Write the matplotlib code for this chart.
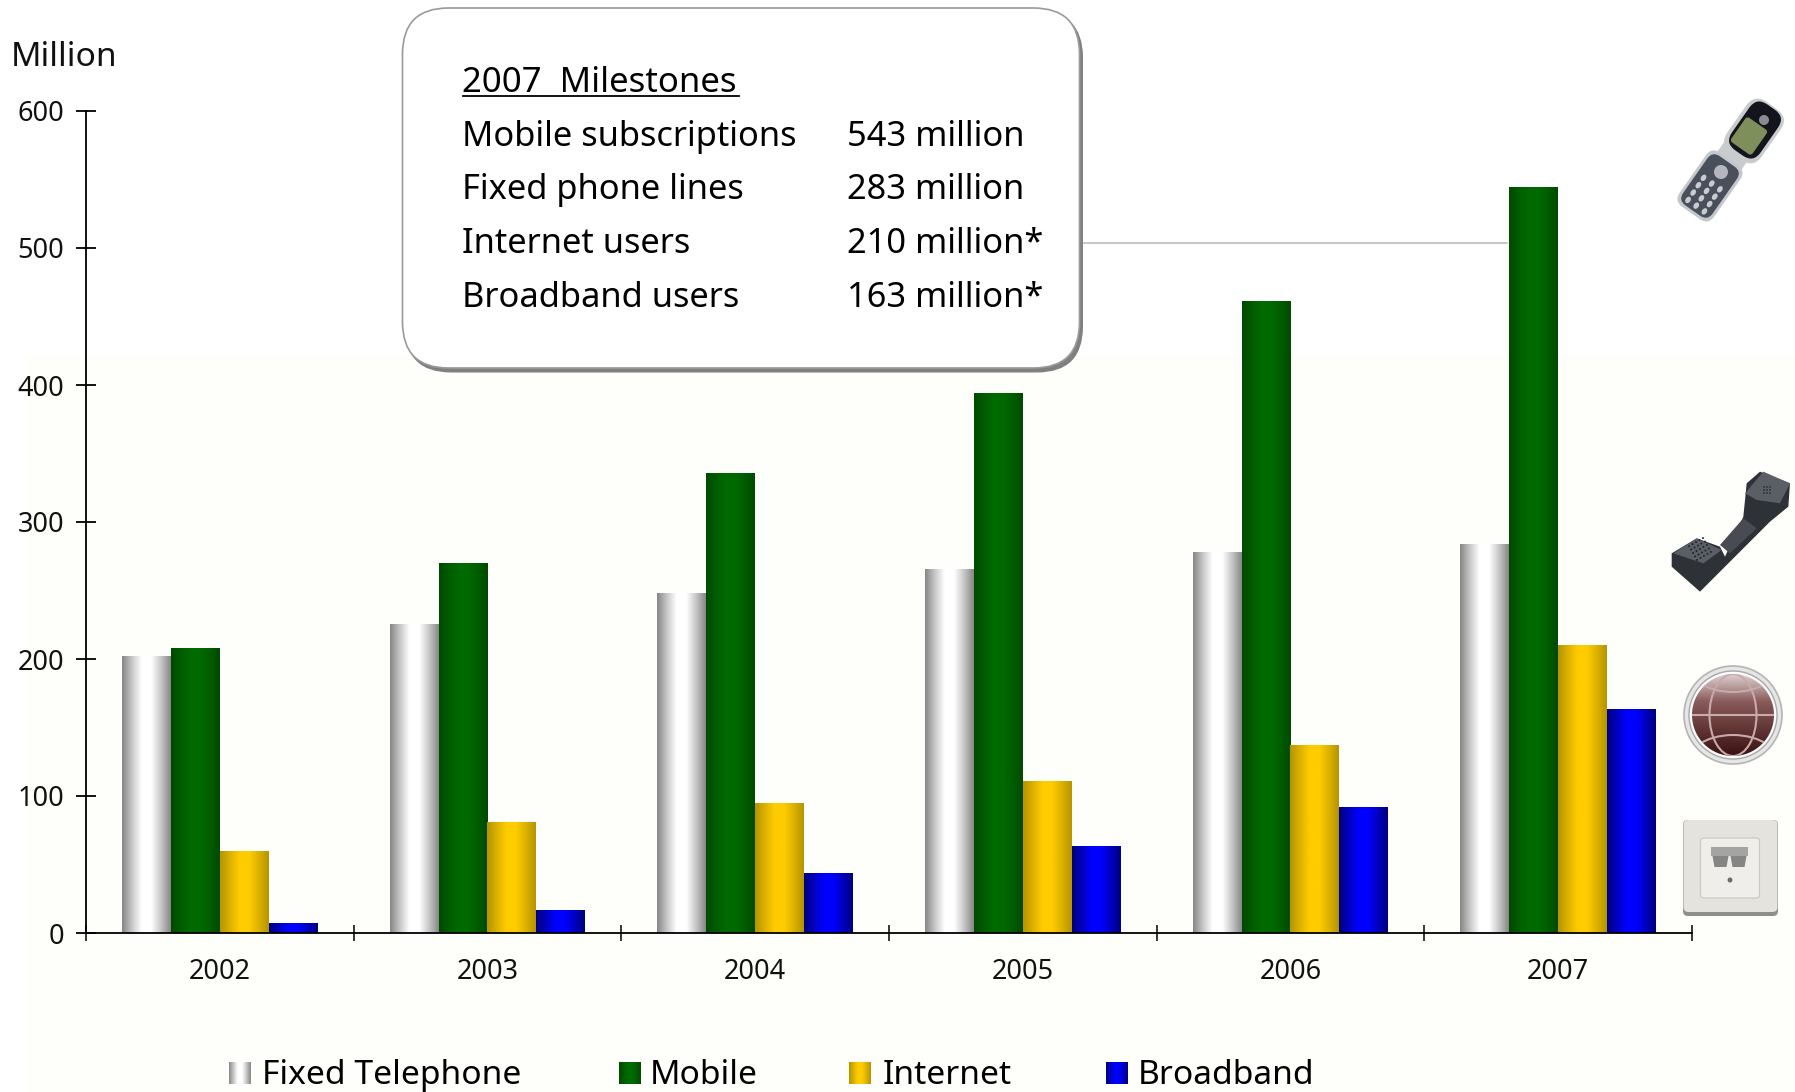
import numpy as np
import matplotlib
matplotlib.use("Agg")
import matplotlib.pyplot as plt
from matplotlib.patches import FancyBboxPatch, Rectangle, Circle, Ellipse, Polygon
from matplotlib.colors import LinearSegmentedColormap
from matplotlib.transforms import Affine2D

years = ["2002", "2003", "2004", "2005", "2006", "2007"]
fixed = [202, 225.5, 247.5, 265.5, 278, 283.5]
mobile = [207.5, 270, 335.5, 393.5, 461, 544]
internet = [59.5, 80.5, 94.5, 110.5, 136.5, 210]
broadband = [7, 16.5, 43.5, 63.5, 91.5, 163]
series_names = ["Fixed Telephone", "Mobile", "Internet", "Broadband"]
yticks = [0, 100, 200, 300, 400, 500, 600]

milestone_title = "2007  Milestones"
milestone_labels = ["Mobile subscriptions", "Fixed phone lines", "Internet users", "Broadband users"]
milestone_values = ["543 million", "283 million", "210 million*", "163 million*"]

gradients = [
    ["#888888", "#c8c8c8", "#ffffff", "#ffffff", "#c8c8c8", "#888888"],
    ["#004a00", "#005c00", "#006a00", "#006a00", "#005c00", "#004a00"],
    ["#b59500", "#dcb100", "#ffcc00", "#ffcc00", "#dcb100", "#b59500"],
    ["#000080", "#0000c0", "#0000ff", "#0000ff", "#0000c0", "#000080"],
]
cmaps = [LinearSegmentedColormap.from_list(f"g{i}", g) for i, g in enumerate(gradients)]
ramp = np.linspace(0, 1, 64).reshape(1, -1)

W, H = 1795, 1092
FONT = "Noto Sans"
plt.rcParams["font.family"] = [FONT, "DejaVu Sans"]
fig = plt.figure(figsize=(W / 100, H / 100), dpi=100, facecolor="white")

bg = fig.add_axes([0, 0, 1, 1], zorder=0)
bg.set_xlim(0, W); bg.set_ylim(H, 0); bg.axis("off")
bg.add_patch(Rectangle((26, 355), W - 26, H - 355, fc="#fefefb", ec="none"))

L, R, T, B = 86, 1692, 111, 933
ax = fig.add_axes([L / W, 1 - B / H, (R - L) / W, (B - T) / H], zorder=1)
ax.patch.set_alpha(0)
x = np.arange(len(years))
w = 0.183
for i, vals in enumerate([fixed, mobile, internet, broadband]):
    bars = ax.bar(x + (i - 1.5) * w, vals, w, color="none", edgecolor="none")
    for b in bars:
        ax.imshow(ramp, cmap=cmaps[i], aspect="auto", zorder=2,
                  extent=(b.get_x(), b.get_x() + b.get_width(), 0, b.get_height()))
ax.set_xlim(-0.5, 5.5)
ax.set_ylim(0, 600)
for s in ("top", "right"):
    ax.spines[s].set_visible(False)
for s in ("left", "bottom"):
    ax.spines[s].set_linewidth(1.3)
    ax.spines[s].set_zorder(5)
ax.set_yticks(yticks)
ax.set_yticklabels([str(v) for v in yticks], fontsize=19.5, color="#111111")
ax.tick_params(axis="y", direction="inout", length=14.4, width=1.3, pad=8.5)
ax.set_xticks(np.arange(-0.5, 6, 1))
ax.set_xticklabels([])
ax.tick_params(axis="x", which="major", direction="inout", length=11.5, width=1.1)
ax.set_xticks(x, minor=True)
ax.set_xticklabels(years, minor=True, fontsize=19.5, color="#111111")
ax.tick_params(axis="x", which="minor", length=0, pad=18)

ov = fig.add_axes([0, 0, 1, 1], zorder=3)
ov.set_xlim(0, W); ov.set_ylim(H, 0); ov.axis("off")
ov.patch.set_alpha(0)


def rrect(cx, cy, w_, h_, angle=0, r=6, fc="#444", ec="none", lw=1, z=3):
    p = FancyBboxPatch((cx - w_ / 2 + r, cy - h_ / 2 + r), w_ - 2 * r, h_ - 2 * r,
                       boxstyle=f"round,pad={r},rounding_size={r}", fc=fc, ec=ec, lw=lw, zorder=z)
    p.set_transform(Affine2D().rotate_deg_around(cx, cy, angle) + ov.transData)
    ov.add_patch(p)
    return p


def along(cx, cy, angle, d, s=0):
    a = np.deg2rad(angle)
    return cx + d * np.cos(a) - s * np.sin(a), cy + d * np.sin(a) + s * np.cos(a)


def hs(points, fc, z=3):
    pts = [(1600 + px / 3, 450 + py / 3) for px, py in points]
    ov.add_patch(Polygon(pts, closed=True, fc=fc, ec="none", zorder=z, joinstyle="round"))


ov.text(11, 57, "Million", fontsize=24.2, va="center", ha="left", color="#111111")

# callout
ov.plot([1083, 1507], [243, 243], color="#bdbdbd", lw=1.2, zorder=1)
rrect(744, 192, 678, 361, r=46, fc="#808080", z=2)
rrect(741, 188, 677, 360, r=46, fc="white", ec="#9a9a9a", lw=1.2, z=3)
ys = [137, 190, 244, 298]
ov.text(462, 83, milestone_title, fontsize=25, va="center", ha="left", color="black", zorder=4)
ov.plot([463, 739], [96, 96], color="black", lw=1.3, zorder=4)
for yy, a, b in zip(ys, milestone_labels, milestone_values):
    ov.text(462, yy, a, fontsize=24.8, va="center", ha="left", color="black", zorder=4)
    ov.text(847, yy, b, fontsize=24.8, va="center", ha="left", color="black", zorder=4)

# legend
sw_x = [229, 619, 849, 1106]
tx_x = [262, 650, 883, 1138]
for i, name in enumerate(series_names):
    ov.imshow(ramp, cmap=cmaps[i], aspect="auto", zorder=3,
              extent=(sw_x[i], sw_x[i] + 22, 1084, 1062))
    ov.text(tx_x[i], 1076, name, fontsize=24.2, va="center", ha="left", color="black")

# mobile phone icon
ang = -55
rrect(1732, 157, 30, 30, ang, r=3, fc="#c8cccc")
rrect(1710, 186, 66, 42, ang, r=10, fc="#c4c8cc")
rrect(1710, 186, 60, 36, ang, r=9, fc="#4a4f5c")
rrect(1754, 131, 62, 42, ang, r=15, fc="#c8cccc")
rrect(1755, 130, 56, 35, ang, r=13, fc="#14141c")
rrect(1749, 136, 30, 26, ang, r=3, fc="#7f8f5c")
ov.add_patch(Circle((1764, 120), 5, fc="#8a8a90", ec="none", zorder=4))
ov.add_patch(Circle((1721, 172), 7, fc="#b4b8bc", ec="none", zorder=4))
for d in (-24, -15, -6, 3):
    for s in (-10, 0, 10):
        px, py = along(1710, 186, ang, d, s)
        ov.add_patch(Ellipse((px, py), 7, 5, angle=ang, fc="#c8ccd0", ec="none", zorder=4))

# handset icon
hs([(215, 310), (290, 265), (360, 290), (375, 320), (430, 200), (440, 100), (480, 65), (570, 100),
    (565, 170), (510, 215), (300, 425), (215, 350)], "#2e3136")
hs([(435, 130), (490, 65), (570, 100), (540, 160), (470, 150)], "#5a5f66", z=4)
hs([(220, 310), (290, 265), (365, 300), (310, 340)], "#5a5f66", z=4)
hs([(360, 285), (430, 205), (470, 235), (390, 310)], "#484c52", z=4)
for s in (-8, -4, 0, 4, 8):
    for d in (-8, -4, 0, 4, 8):
        px, py = along(1700, 549, -30, d, s)
        ov.add_patch(Circle((px, py), 1.0, fc="#22252a", ec="none", zorder=5))
for d in (-3, 0, 3):
    for s in (-3, 0, 3):
        ov.add_patch(Circle((1767 + d, 490 + s), 0.9, fc="#2a2c30", ec="none", zorder=5))

# globe icon
gc = (1733, 715)
ov.add_patch(Circle(gc, 49, fc="#e6e6e6", ec="#b4b4b4", lw=1.2, zorder=3))
ov.add_patch(Circle(gc, 44, fc="#fbfbfb", ec="#a8a8a8", lw=1, zorder=3))
globe_cm = LinearSegmentedColormap.from_list("gl", ["#dcd0d0", "#8a5a5a", "#633636", "#3a1212"])
im = ov.imshow(np.linspace(0, 1, 64).reshape(-1, 1), cmap=globe_cm, aspect="auto", zorder=4,
               extent=(gc[0] - 41, gc[0] + 41, gc[1] + 41, gc[1] - 41))
clip = Circle(gc, 41, transform=ov.transData)
im.set_clip_path(clip)
line_c = "#c8aaaa"
for e in [Ellipse(gc, 47, 82, fc="none", ec=line_c, lw=1.5),
          Ellipse((gc[0], gc[1] - 57), 100, 68, fc="none", ec=line_c, lw=1.5),
          Ellipse((gc[0], gc[1] + 54), 100, 68, fc="none", ec=line_c, lw=1.5)]:
    ov.add_patch(e); e.set_zorder(5); e.set_clip_path(clip)
ov.plot([gc[0] - 40, gc[0] + 40], [gc[1], gc[1]], color=line_c, lw=1.5, zorder=5)

# wall socket icon
rrect(1730.5, 868, 95, 96, r=5, fc="#8e8e8a", z=3)
rrect(1730.5, 866, 94, 92, r=5, fc="#e4e3de", z=3)
rrect(1730, 868, 59, 60, r=3, fc="#efeeea", ec="#c8c8c4", lw=0.8, z=4)
ov.add_patch(Rectangle((1711, 847), 37, 9, fc="#a4a4a2", ec="none", zorder=5))
for c in (1720.5, 1738.5):
    ov.add_patch(Polygon([(c - 8, 856), (c + 8, 856), (c + 6, 867), (c - 6, 867)], closed=True,
                         fc="#858583", ec="none", zorder=5))
ov.add_patch(Circle((1730, 880), 2.5, fc="#6c6c6a", ec="none", zorder=5))

ov.set_xlim(0, W); ov.set_ylim(H, 0)
fig.savefig("out.png", dpi=100, facecolor="white")
